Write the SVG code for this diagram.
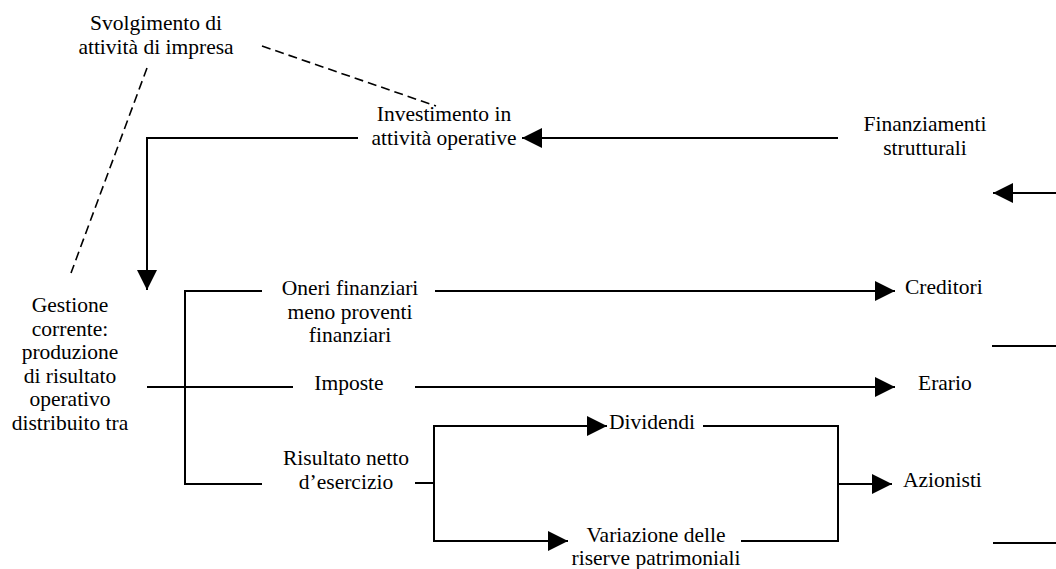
<svg xmlns="http://www.w3.org/2000/svg" width="1056" height="569" viewBox="0 0 1056 569">
<style>
text{font-family:"Liberation Serif","Times New Roman","DejaVu Serif",serif;font-size:21.5px;fill:#000}
.c{text-anchor:middle}
.s{text-anchor:start}
.ln{stroke:#000;stroke-width:2;fill:none}
.ds{stroke:#000;stroke-width:1.6;fill:none;stroke-dasharray:9 5}
</style>
<defs>
<marker id="ah" markerWidth="20" markerHeight="20" refX="20" refY="10" orient="auto" markerUnits="userSpaceOnUse"><path d="M0,0 L20,10 L0,20 z" fill="#000"/></marker>
</defs>
<rect width="1056" height="569" fill="#fff"/>
<g id="svolgimento"><text class="c" x="156" y="30">Svolgimento di</text><text class="c" x="156" y="54">attività di impresa</text></g>
<g id="investimento"><text class="c" x="444" y="121">Investimento in</text><text class="c" x="444" y="145">attività operative</text></g>
<g id="finanziamenti"><text class="c" x="925" y="131">Finanziamenti</text><text class="c" x="925" y="155">strutturali</text></g>
<g id="gestione"><text class="c" x="70" y="312">Gestione</text><text class="c" x="70" y="335.5">corrente:</text><text class="c" x="70" y="359">produzione</text><text class="c" x="70" y="382.5">di risultato</text><text class="c" x="70" y="406">operativo</text><text class="c" x="70" y="429.5">distribuito tra</text></g>
<g id="oneri"><text class="c" x="350" y="295">Oneri finanziari</text><text class="c" x="350" y="318.5">meno proventi</text><text class="c" x="350" y="342">finanziari</text></g>
<g id="imposte"><text class="c" x="349" y="390">Imposte</text></g>
<g id="risultato"><text class="c" x="346" y="465">Risultato netto</text><text class="c" x="346" y="489">d’esercizio</text></g>
<g id="dividendi"><text class="s" x="609" y="429">Dividendi</text></g>
<g id="variazione"><text class="c" x="656" y="542">Variazione delle</text><text class="c" x="656" y="565">riserve patrimoniali</text></g>
<g id="creditori"><text class="s" x="905" y="294">Creditori</text></g>
<g id="erario"><text class="s" x="918" y="390">Erario</text></g>
<g id="azionisti"><text class="s" x="903" y="487">Azionisti</text></g>
<g id="connectors">
<line class="ds" x1="262" y1="46" x2="436" y2="106"/>
<line class="ds" x1="147" y1="68" x2="71" y2="273"/>
<line class="ln" x1="838" y1="138" x2="522" y2="138" marker-end="url(#ah)"/>
<polyline class="ln" points="358,138 147,138 147,290" marker-end="url(#ah)"/>
<line class="ln" x1="1056" y1="193" x2="993" y2="193" marker-end="url(#ah)"/>
<polyline class="ln" points="262,291 185,291 185,484 262,484"/>
<line class="ln" x1="147" y1="387" x2="293" y2="387"/>
<line class="ln" x1="435" y1="291" x2="895" y2="291" marker-end="url(#ah)"/>
<line class="ln" x1="415" y1="387" x2="895" y2="387" marker-end="url(#ah)"/>
<line class="ln" x1="992" y1="346" x2="1056" y2="346"/>
<line class="ln" x1="415" y1="483" x2="434" y2="483"/>
<line class="ln" x1="434" y1="425" x2="434" y2="542"/>
<line class="ln" x1="433" y1="426" x2="607" y2="426" marker-end="url(#ah)"/>
<line class="ln" x1="433" y1="541" x2="568" y2="541" marker-end="url(#ah)"/>
<polyline class="ln" points="703,426 838,426 838,541 741,541"/>
<line class="ln" x1="838" y1="484" x2="892" y2="484" marker-end="url(#ah)"/>
<line class="ln" x1="993" y1="543" x2="1056" y2="543"/>
</g>
</svg>
